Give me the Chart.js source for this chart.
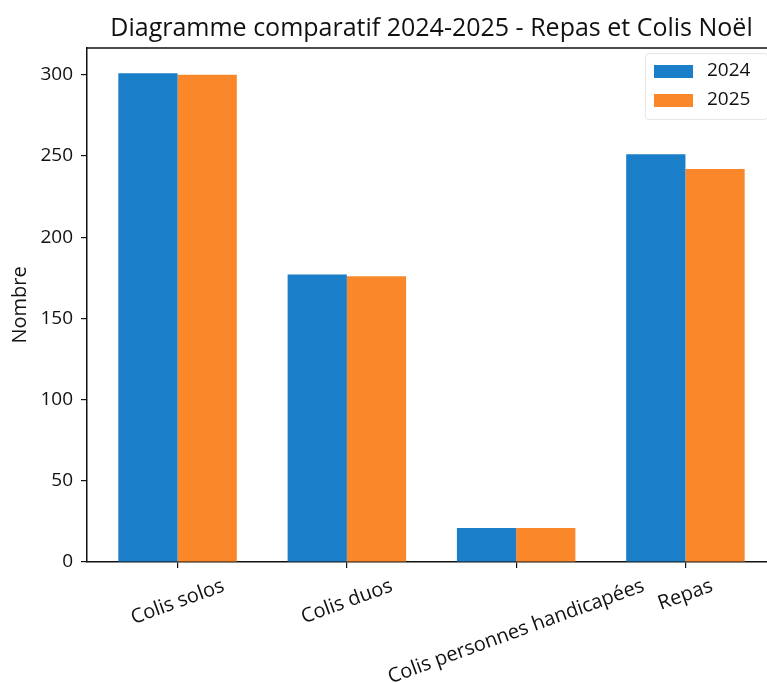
<!DOCTYPE html>
<html>
<head>
    <meta charset="utf-8" />
    <title>Diagramme comparatif 2024-2025</title>
    <script src="https://cdn.jsdelivr.net/npm/chart.js"></script>
    <style>
        html, body { margin: 0; padding: 0; background: white; overflow: hidden; }
        #wrap { width: 776px; height: 683px; position: relative; }
    </style>
</head>
<body>
<div id="wrap"><canvas id="chartRepas"></canvas></div>

<script>
const categories = ['Colis solos', 'Colis duos', 'Colis personnes handicapées', 'Repas'];
const values2024 = [301, 177, 21, 251];
const values2025 = [300, 176, 21, 242];
const yTicks = [0, 50, 100, 150, 200, 250, 300];

const FONT = 'Open Sans';

// top and right spines of the axes box
const boxSpines = {
    id: 'boxSpines',
    afterDraw(chart) {
        const a = chart.chartArea;
        const ctx = chart.ctx;
        ctx.save();
        ctx.strokeStyle = '#111';
        ctx.lineWidth = 1.5;
        ctx.beginPath();
        ctx.moveTo(a.left, a.top);
        ctx.lineTo(a.right, a.top);
        ctx.lineTo(a.right, a.bottom);
        ctx.stroke();
        ctx.restore();
    }
};

// legend drawn inside the plot, top right (like matplotlib)
const innerLegend = {
    id: 'innerLegend',
    afterDraw(chart) {
        const ctx = chart.ctx;
        const x0 = 645, y0 = 53, w = 122, h = 66;
        ctx.save();
        ctx.fillStyle = 'rgba(255,255,255,0.8)';
        ctx.strokeStyle = '#e6e6e6';
        ctx.lineWidth = 1;
        ctx.beginPath();
        ctx.roundRect(x0 + 0.5, y0 + 0.5, w, h, 3);
        ctx.fill();
        ctx.stroke();
        ctx.font = '19px ' + FONT;
        ctx.textBaseline = 'middle';
        chart.data.datasets.forEach((ds, i) => {
            const cy = y0 + 18 + i * 29;
            ctx.fillStyle = ds.backgroundColor;
            ctx.fillRect(x0 + 9, cy - 6, 39, 13);
            ctx.fillStyle = '#111';
            ctx.textAlign = 'left';
            ctx.fillText(ds.label, x0 + 62, cy);
        });
        ctx.restore();
    }
};

// rotated x labels, centred on the tick (matplotlib style)
const rotatedLabels = {
    id: 'rotatedLabels',
    afterDraw(chart) {
        const ctx = chart.ctx;
        const xs = chart.scales.x;
        const theta = 20 * Math.PI / 180;
        const top = chart.chartArea.bottom + 14;
        ctx.save();
        ctx.font = '20px ' + FONT;
        ctx.fillStyle = '#111';
        ctx.textAlign = 'center';
        ctx.textBaseline = 'middle';
        categories.forEach((lab, i) => {
            const w = ctx.measureText(lab).width;
            const h = 20;
            const bh = w * Math.sin(theta) + h * Math.cos(theta);
            const cx = xs.getPixelForTick(i);
            const cy = top + bh / 2;
            ctx.save();
            ctx.translate(cx, cy);
            ctx.rotate(-theta);
            ctx.fillText(lab, 0, 0);
            ctx.restore();
        });
        ctx.restore();
    }
};

const ctx = document.getElementById('chartRepas').getContext('2d');
new Chart(ctx, {
    type: 'bar',
    data: {
        labels: categories,
        datasets: [{
            label: '2024',
            data: values2024,
            backgroundColor: '#1a7fc8',
            categoryPercentage: 0.7,
            barPercentage: 1.0
        }, {
            label: '2025',
            data: values2025,
            backgroundColor: '#fa882b',
            categoryPercentage: 0.7,
            barPercentage: 1.0
        }]
    },
    options: {
        responsive: true,
        maintainAspectRatio: false,
        animation: false,
        layout: { padding: { left: 0, right: 0, top: 0, bottom: 115 } },
        plugins: {
            legend: { display: false },
            tooltip: { enabled: false },
            title: {
                display: true,
                fullSize: false,   // centre over the plot area
                text: 'Diagramme comparatif 2024-2025 - Repas et Colis Noël',
                color: '#111',
                font: { family: FONT, size: 25, weight: 'normal' },
                padding: { top: 14, bottom: 4 }
            }
        },
        scales: {
            x: {
                offset: true,
                afterBuildTicks(scale) {
                    // matplotlib-like margins around the bar groups
                    scale._startValue = -0.535;
                    scale._valueRange = 4.07;
                },
                ticks: { display: false },
                grid: { offset: false, drawOnChartArea: false, drawTicks: true, tickLength: 6, color: '#111', lineWidth: 1.2 },
                border: { display: true, color: '#111', width: 1.5 }
            },
            y: {
                min: 0,
                max: 316.5,
                afterBuildTicks(scale) {
                    scale.ticks = yTicks.map(v => ({ value: v }));
                },
                afterFit(scale) { scale.width = 87; },
                ticks: {
                    color: '#111',
                    font: { family: FONT, size: 19 },
                    padding: 8
                },
                grid: { drawOnChartArea: false, drawTicks: true, tickLength: 6, color: '#111', lineWidth: 1.2 },
                border: { display: true, color: '#111', width: 1.5 },
                title: {
                    display: true,
                    text: 'Nombre',
                    color: '#111',
                    font: { family: FONT, size: 20 },
                    padding: { top: 8, bottom: 0 }
                }
            }
        }
    },
    plugins: [boxSpines, innerLegend, rotatedLabels]
});
</script>
</body>
</html>
